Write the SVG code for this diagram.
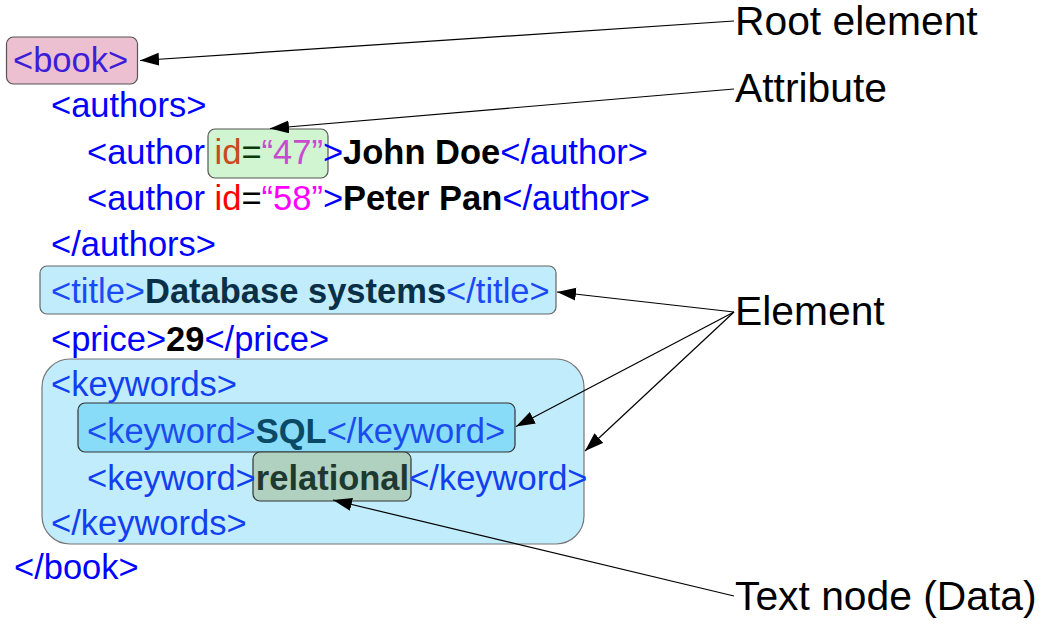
<svg xmlns="http://www.w3.org/2000/svg" width="1050" height="627" viewBox="0 0 1050 627">
<defs>
<marker id="ah" markerUnits="userSpaceOnUse" markerWidth="20" markerHeight="14" refX="19" refY="6.5" orient="auto">
<path d="M0,0 L19,6.5 L0,13 z" fill="#000"/>
</marker>
<style>
.code{font-family:"Liberation Sans",Arial,sans-serif;font-size:34.5px;fill:#0000ff}
.lbl{font-family:"Liberation Sans",Arial,sans-serif;font-size:40.8px;fill:#000}
.b{font-weight:bold}
.box{stroke-width:1.2}
.conn line{stroke:#000;stroke-width:1.2;marker-end:url(#ah)}
</style>
</defs>
<rect width="1050" height="627" fill="#fff"/>

<g id="keywords-box"><rect class="box" x="42" y="359" width="542" height="185" rx="28" fill="#c0ecfc" stroke="#777"/></g>
<g id="book-box"><rect class="box" x="6.5" y="37" width="131" height="47" rx="7" fill="#ecc0d0" stroke="#555"/></g>
<g id="attr-box"><rect class="box" x="208" y="129" width="120" height="49" rx="7" fill="#d0f5d0" stroke="#555"/></g>
<g id="title-box"><rect class="box" x="40" y="266" width="516" height="48" rx="7" fill="#c0ecfc" stroke="#666"/></g>
<g id="sql-box"><rect class="box" x="78" y="403" width="437" height="49" rx="7" fill="#88dcf8" stroke="#333"/></g>
<g id="rel-box"><rect class="box" x="253" y="452" width="158" height="49" rx="7" fill="#b0d0c0" stroke="#333"/></g>

<g id="xml-text">
<text class="code" x="13" y="72" style="fill:#3c1ed8">&lt;book&gt;</text>
<text class="code" x="51" y="117">&lt;authors&gt;</text>
<text class="code" x="87" y="164">&lt;author <tspan style="fill:#c84a1e">id</tspan><tspan style="fill:#0a3a0a">=</tspan><tspan style="fill:#c84ad0">“47”</tspan>&gt;<tspan class="b" style="fill:#000">John Doe</tspan>&lt;/author&gt;</text>
<text class="code" x="87" y="210">&lt;author <tspan style="fill:#ff0000">id</tspan><tspan style="fill:#000">=</tspan><tspan style="fill:#ff00ff">“58”</tspan>&gt;<tspan class="b" style="fill:#000">Peter Pan</tspan>&lt;/author&gt;</text>
<text class="code" x="51" y="256">&lt;/authors&gt;</text>
<text class="code" x="51" y="303" style="fill:#1a4af5">&lt;title&gt;<tspan class="b" style="fill:#0a3048">Database systems</tspan>&lt;/title&gt;</text>
<text class="code" x="51" y="351">&lt;price&gt;<tspan class="b" style="fill:#000">29</tspan>&lt;/price&gt;</text>
<text class="code" x="51" y="396" style="fill:#1040f0">&lt;keywords&gt;</text>
<text class="code" x="87" y="443" style="fill:#1a4cee">&lt;keyword&gt;<tspan class="b" style="fill:#0a4a66">SQL</tspan>&lt;/keyword&gt;</text>
<text class="code" x="87" y="490" style="fill:#1040f0">&lt;keyword&gt;<tspan class="b" style="fill:#1e3a30">relational</tspan>&lt;/keyword&gt;</text>
<text class="code" x="51" y="535" style="fill:#1040f0">&lt;/keywords&gt;</text>
<text class="code" x="14" y="579">&lt;/book&gt;</text>
</g>

<g id="label-root"><text class="lbl" x="735" y="35">Root element</text></g>
<g id="label-attribute"><text class="lbl" x="735" y="101.5">Attribute</text></g>
<g id="label-element"><text class="lbl" x="735" y="325">Element</text></g>
<g id="label-textnode"><text class="lbl" x="735" y="610">Text node (Data)</text></g>

<g id="connectors" class="conn">
<line x1="734" y1="21" x2="140" y2="60.5"/>
<line x1="734" y1="89" x2="270" y2="128.5"/>
<line x1="734" y1="312" x2="557" y2="292"/>
<line x1="734" y1="312" x2="516" y2="426.5"/>
<line x1="734" y1="312" x2="585" y2="451"/>
<line x1="734" y1="596" x2="333" y2="500"/>
</g>
</svg>
